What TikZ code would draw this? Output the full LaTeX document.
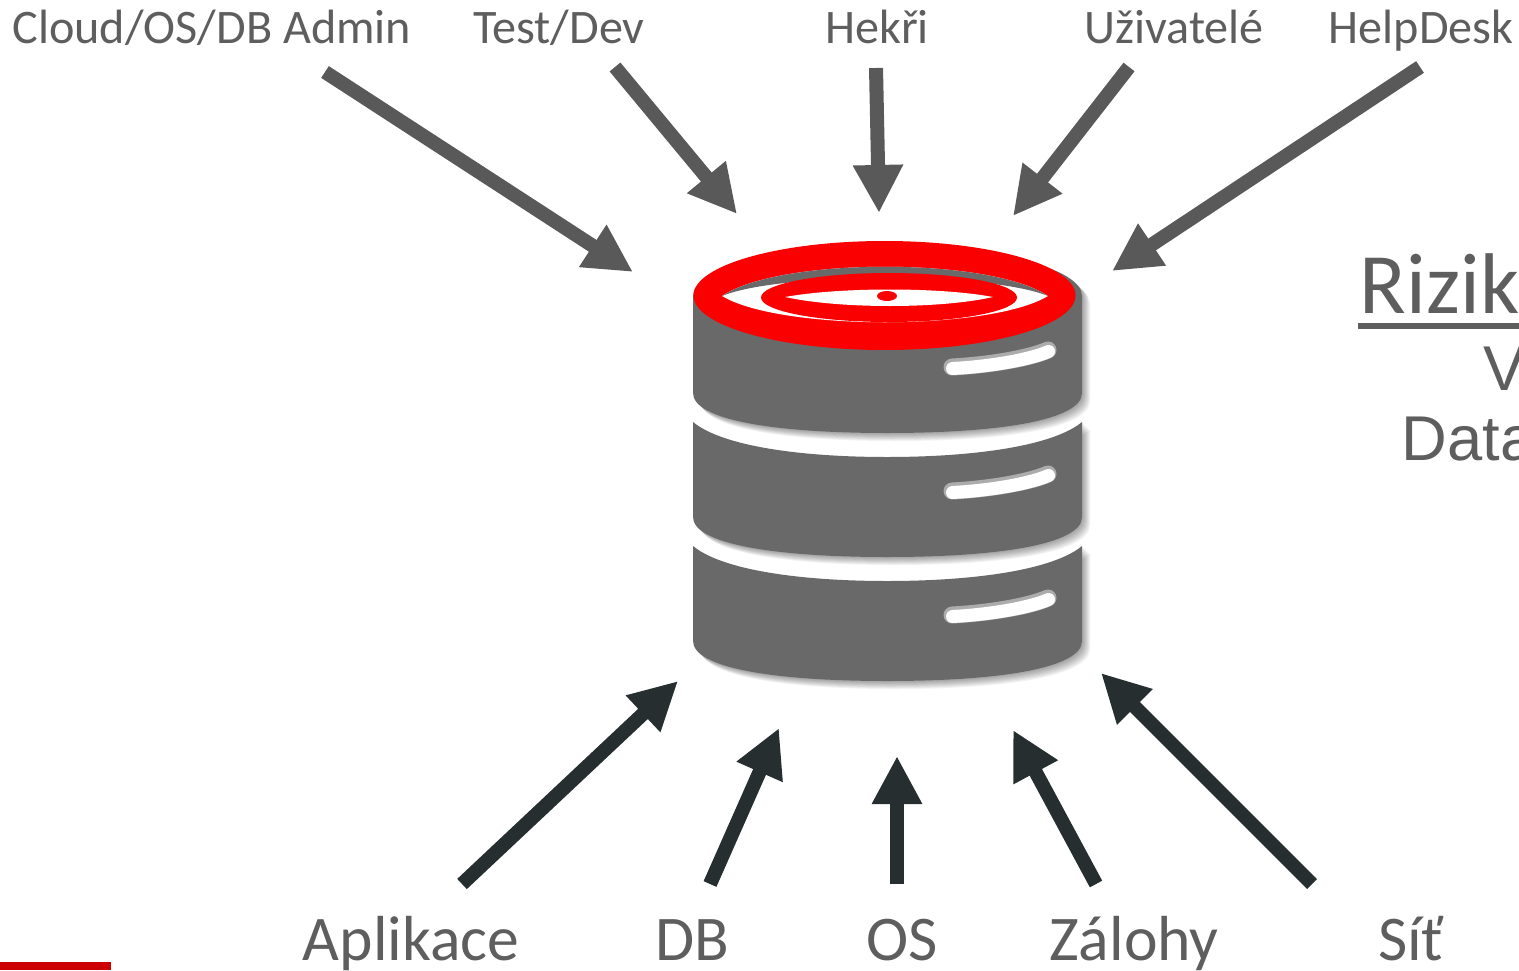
\documentclass[tikz,border=0pt]{standalone}
\usepackage{fontspec}
\setmainfont{Carlito}
\newfontfamily\armfont{Liberation Sans}
\usetikzlibrary{arrows.meta}
\definecolor{labelgray}{HTML}{5E5E5E}
\definecolor{topgray}{HTML}{595959}
\definecolor{botdark}{HTML}{262E30}
\definecolor{diskgray}{HTML}{696969}
\definecolor{ringred}{HTML}{FA0000}
\definecolor{barred}{HTML}{CC0000}
\tikzset{toplab/.append style={font=\fontsize{13.7}{13.7}\selectfont,text=labelgray,anchor=base,inner sep=0pt}}
\tikzset{botlab/.append style={font=\fontsize{18.1}{18.1}\selectfont,text=labelgray,anchor=base,inner sep=0pt}}
\tikzset{sidelab/.append style={font=\armfont\fontsize{18}{18}\selectfont,text=labelgray,anchor=base west,inner sep=0pt}}
\tikzset{topar/.append style={draw=topgray,line width=1.4mm,-{Triangle[length=4.8mm,width=4.7mm]}}}
\tikzset{botar/.append style={draw=botdark,line width=1.4mm,-{Triangle[length=4.8mm,width=4.7mm]}}}
\newcommand{\firstdisk}{(693,296) .. controls (693,268) and (780,246) .. (887,246) .. controls (994,246) and (1082,268) .. (1082,296) -- (1082,393) .. controls (1082,420) and (1000,433) .. (887,433) .. controls (775,433) and (693,420) .. (693,393) -- cycle}
\newcommand{\lowerdisk}{(693,422) .. controls (722,446) and (800,457) .. (887,457) .. controls (974,457) and (1053,446) .. (1082,422) -- (1082,517) .. controls (1082,544) and (1000,557) .. (887,557) .. controls (775,557) and (693,544) .. (693,517) -- cycle}
\newcommand{\slotline}{(952,367) .. controls (990,365) and (1030,358) .. (1048,350)}
\begin{document}
\begin{tikzpicture}[x=0.01cm,y=-0.01cm]
    \useasboundingbox (0,0) rectangle (1519,970);
    \clip (0,0) rectangle (1519,970);
    % disks with soft edge
    \foreach \s in {1,...,8} {
        \fill[black,opacity=0.05,shift={(\s,\s)}] \firstdisk;
        \fill[black,opacity=0.05,shift={(\s,\s)}] \lowerdisk;
        \fill[black,opacity=0.05,shift={(\s,124+\s)}] \lowerdisk;
    }
    \fill[diskgray] \firstdisk;
    \fill[diskgray] \lowerdisk;
    \fill[diskgray,shift={(0,124)}] \lowerdisk;
    % slots
    \foreach \dy in {0,124,248} {
        \draw[diskgray!55!white,line width=1.7mm,line cap=round,shift={(0,\dy)}] \slotline;
        \draw[white,line width=1.3mm,line cap=round,shift={(0.5,\dy+1.5)}] \slotline;
    }
    % red eye on top
    \fill[ringred] (884.5,295.5) ellipse [x radius=191,y radius=54.5];
    \fill[white] (722,296) .. controls (780,257) and (990,257) .. (1048,296) .. controls (990,331) and (780,331) .. (722,296) -- cycle;
    \fill[diskgray] (722,296) .. controls (780,257) and (990,257) .. (1048,296) .. controls (990,272) and (780,272) .. (722,296) -- cycle;
    \fill[ringred] (889,297.5) ellipse [x radius=128,y radius=24.5];
    \fill[white] (785,297) .. controls (840,287) and (940,287) .. (993,297) .. controls (940,309) and (840,309) .. (785,297) -- cycle;
    \fill[ringred] (887,296) ellipse [x radius=10,y radius=5];
    % labels
    \node[toplab] (cloud) at (212,44) {Cloud/OS/DB Admin};
    \node[toplab] (testdev) at (559,44) {Test/Dev};
    \node[toplab] (hekri) at (877,44) {Hekři};
    \node[toplab] (uziv) at (1174,44) {Uživatelé};
    \node[toplab] (helpdesk) at (1421,44) {HelpDesk};
    \node[botlab] (aplikace) at (411,960) {Aplikace};
    \node[botlab] (db) at (692,960) {DB};
    \node[botlab] (os) at (902,960) {OS};
    \node[botlab] (zalohy) at (1134,960) {Zálohy};
    \node[botlab] (sit) at (1411,960) {Síť};
    \node[sidelab,font=\rmfamily\fontsize{24.5}{24.5}\selectfont] (riziko) at (1359,313) {Riziko};
    \node[sidelab] (vv) at (1483,390) {V};
    \node[sidelab] (data) at (1401,460) {Data};
    % arrow ends
    \coordinate (cloudA) at (325,72);
    \coordinate (cloudB) at (633,272);
    \coordinate (testA) at (615,67);
    \coordinate (testB) at (737,214);
    \coordinate (hekA) at (876,68);
    \coordinate (hekB) at (879,213);
    \coordinate (uzA) at (1129,67);
    \coordinate (uzB) at (1013,216);
    \coordinate (helpA) at (1420,67);
    \coordinate (helpB) at (1112,271);
    \coordinate (aplA) at (462,884);
    \coordinate (aplB) at (678,681);
    \coordinate (dbA) at (710,884);
    \coordinate (dbB) at (779,728);
    \coordinate (osA) at (897,884);
    \coordinate (osB) at (897,756);
    \coordinate (zalA) at (1096,884);
    \coordinate (zalB) at (1013,730);
    \coordinate (sitA) at (1312,884);
    \coordinate (sitB) at (1101,673);
    \draw[topar] (cloudA) -- (cloudB);
    \draw[topar] (testA) -- (testB);
    \draw[topar] (hekA) -- (hekB);
    \draw[topar] (uzA) -- (uzB);
    \draw[topar] (helpA) -- (helpB);
    \draw[botar] (aplA) -- (aplB);
    \draw[botar] (dbA) -- (dbB);
    \draw[botar] (osA) -- (osB);
    \draw[botar] (zalA) -- (zalB);
    \draw[botar] (sitA) -- (sitB);
    % underline and red bar
    \fill[labelgray] (1358,323) rectangle (1519,329);
    \fill[barred] (0,962) rectangle (111,970);
\end{tikzpicture}
\end{document}
